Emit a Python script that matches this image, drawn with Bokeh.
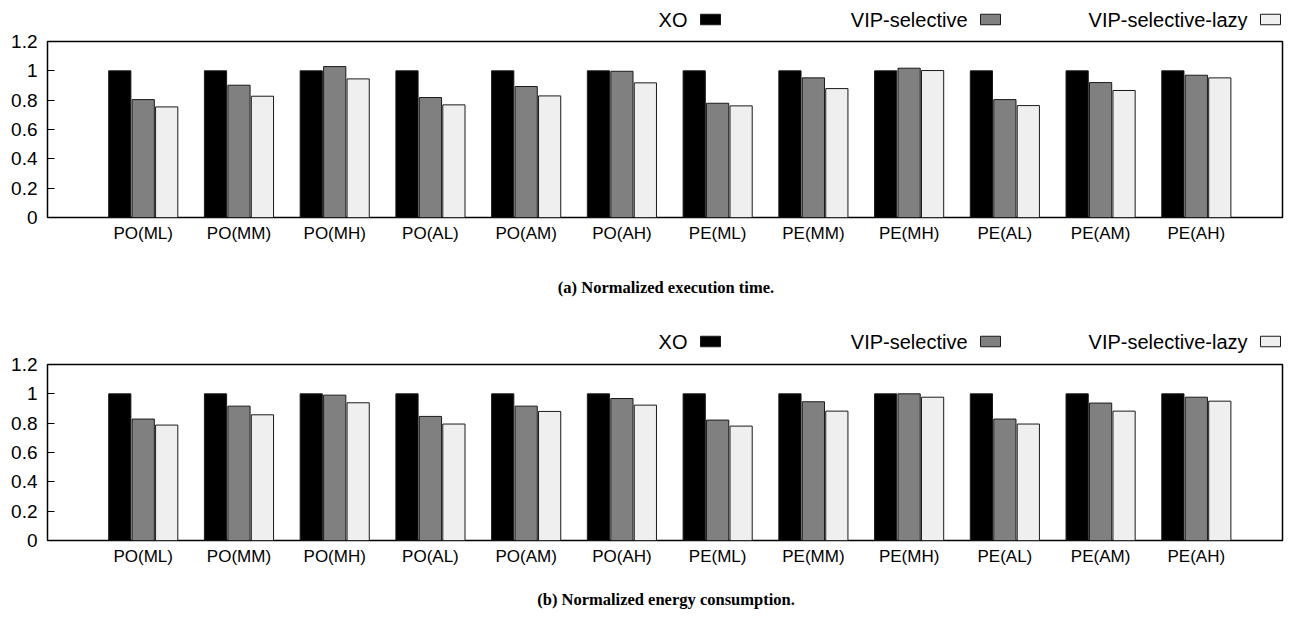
from bokeh.plotting import figure
from bokeh.layouts import column
from bokeh.models import Range1d, FixedTicker
from bokeh.core.properties import value
from bokeh.embed import file_html
from bokeh.resources import INLINE

# ---------------- data ----------------
categories = ["PO(ML)", "PO(MM)", "PO(MH)", "PO(AL)", "PO(AM)", "PO(AH)",
              "PE(ML)", "PE(MM)", "PE(MH)", "PE(AL)", "PE(AM)", "PE(AH)"]
series_names = ["XO", "VIP-selective", "VIP-selective-lazy"]

time_xo = [1.0, 1.0, 1.0, 1.0, 1.0, 1.0, 1.0, 1.0, 1.0, 1.0, 1.0, 1.0]
time_sel = [0.804, 0.902, 1.029, 0.818, 0.893, 0.997, 0.779, 0.952, 1.018, 0.804, 0.920, 0.970]
time_lazy = [0.754, 0.827, 0.945, 0.768, 0.829, 0.918, 0.761, 0.879, 1.002, 0.763, 0.866, 0.952]

energy_xo = [1.0, 1.0, 1.0, 1.0, 1.0, 1.0, 1.0, 1.0, 1.0, 1.0, 1.0, 1.0]
energy_sel = [0.828, 0.916, 0.991, 0.846, 0.916, 0.968, 0.821, 0.946, 1.000, 0.828, 0.937, 0.977]
energy_lazy = [0.787, 0.857, 0.939, 0.794, 0.880, 0.923, 0.780, 0.882, 0.977, 0.794, 0.882, 0.950]

y_ticks = [0, 0.2, 0.4, 0.6, 0.8, 1, 1.2]
y_tick_labels = ["0", "0.2", "0.4", "0.6", "0.8", "1", "1.2"]

captions = ["(a) Normalized execution time.", "(b) Normalized energy consumption."]

# ---------------- style / layout ----------------
fills = ["#000000", "#808080", "#efefef"]
offsets = [-0.245, 0.0, 0.245]
bar_w = 0.232
X0, X1 = -1.0, 11.9
Y0, Y1 = 0.0, 1.2
W = 1292
FRAME_L, FRAME_R = 47, 10
FRAME_H = 176
PLOT_TOP, PLOT_BOTTOM = 11, 32
SANS = "Liberation Sans"
SERIF = "Liberation Serif"


def blank_fig(h):
    f = figure(width=W, height=h, output_backend="svg", toolbar_location=None,
               x_range=Range1d(FRAME_L, W - FRAME_R), y_range=Range1d(h, 0),
               x_axis_type=None, y_axis_type=None,
               min_border_left=FRAME_L, min_border_right=FRAME_R,
               min_border_top=0, min_border_bottom=0)
    f.grid.visible = False
    f.outline_line_color = None
    f.background_fill_color = "white"
    f.border_fill_color = "white"
    return f


def legend_fig(h, yc):
    f = blank_fig(h)
    text_right = [687, 967, 1247]
    f.text(x=text_right, y=[yc] * 3, text=series_names,
           text_font=value(SANS), text_font_size=value("20px"),
           text_align="right", text_baseline="middle", text_color="black")
    f.quad(left=[t + 13 for t in text_right], right=[t + 33 for t in text_right],
           top=[yc - 5.25] * 3, bottom=[yc + 5.25] * 3,
           fill_color=fills, line_color="#1a1a1a", line_width=1)
    return f


def caption_fig(h, yc, text):
    f = blank_fig(h)
    f.text(x=[(FRAME_L + W - FRAME_R) / 2 + 1], y=[yc], text=[text],
           text_font=value(SERIF), text_font_style="bold", text_font_size=value("16.5px"),
           text_align="center", text_baseline="middle", text_color="black")
    return f


def plot_fig(values):
    p = figure(width=W, height=PLOT_TOP + FRAME_H + PLOT_BOTTOM, output_backend="svg",
               toolbar_location=None,
               x_range=Range1d(X0, X1), y_range=Range1d(Y0, Y1),
               min_border_left=FRAME_L, min_border_right=FRAME_R,
               min_border_top=PLOT_TOP, min_border_bottom=PLOT_BOTTOM)
    p.grid.visible = False
    p.outline_line_color = "black"
    p.outline_line_width = 1.5
    p.background_fill_color = "white"
    p.border_fill_color = "white"

    for k, vals in enumerate(values):
        xs = [i + offsets[k] for i in range(len(categories))]
        p.vbar(x=xs, top=vals, bottom=0, width=bar_w, fill_color=fills[k],
               line_color="#1a1a1a", line_width=1)

    p.xaxis.ticker = FixedTicker(ticks=list(range(len(categories))))
    p.xaxis.major_label_overrides = {i: c for i, c in enumerate(categories)}
    p.xaxis.axis_line_color = None
    p.xaxis.major_tick_line_color = None
    p.xaxis.major_tick_in = 0
    p.xaxis.major_tick_out = 0
    p.xaxis.minor_tick_line_color = None
    p.xaxis.minor_tick_in = 0
    p.xaxis.minor_tick_out = 0
    p.xaxis.major_label_standoff = 6
    p.xaxis.major_label_text_font = SANS
    p.xaxis.major_label_text_font_size = "17px"
    p.xaxis.major_label_text_color = "black"

    p.yaxis.ticker = FixedTicker(ticks=y_ticks)
    p.yaxis.major_label_overrides = {t: l for t, l in zip(y_ticks, y_tick_labels)}
    p.yaxis.axis_line_color = None
    p.yaxis.major_tick_line_color = "black"
    p.yaxis.major_tick_in = 7
    p.yaxis.major_tick_out = 0
    p.yaxis.minor_tick_line_color = None
    p.yaxis.minor_tick_out = 0
    p.yaxis.major_label_standoff = 10
    p.yaxis.major_label_text_font = SANS
    p.yaxis.major_label_text_font_size = "19px"
    p.yaxis.major_label_text_color = "black"
    return p


# panel (a): 0..310 ; panel (b): 310..620
leg_a = legend_fig(41 - PLOT_TOP, 19)
plot_a = plot_fig([time_xo, time_sel, time_lazy])
cap_a = caption_fig(310 - 217 - PLOT_BOTTOM, 287 - (217 + PLOT_BOTTOM), captions[0])

leg_b = legend_fig(364 - PLOT_TOP - 310, 341 - 310)
plot_b = plot_fig([energy_xo, energy_sel, energy_lazy])
cap_b = caption_fig(620 - 540 - PLOT_BOTTOM, 599 - (540 + PLOT_BOTTOM), captions[1])

layout = column(leg_a, plot_a, cap_a, leg_b, plot_b, cap_b, spacing=0)
open("out.html", "w").write(file_html(layout, INLINE))
